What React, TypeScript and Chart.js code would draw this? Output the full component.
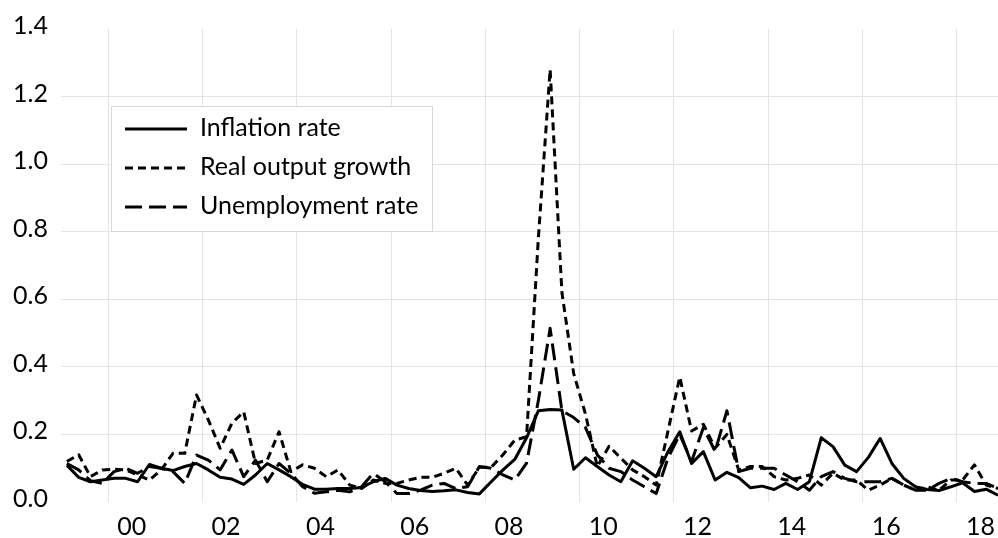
import React, { useEffect, useRef } from "react";
import { Chart, registerables } from "chart.js";

Chart.register(...registerables);

// Quarterly categories, 1999Q1 .. 2018Q4
const startYear = 1999;
const quarterCount = 80;
const quarters: string[] = Array.from({ length: quarterCount }, (_, i) =>
  `${startYear + Math.floor(i / 4)}Q${(i % 4) + 1}`
);

// Tick labels shown (two-digit even years)
const yearTickLabels = ["00", "02", "04", "06", "08", "10", "12", "14", "16", "18"];

const inflationRate = [
  0.109, 0.073, 0.06, 0.065, 0.07, 0.07, 0.06, 0.111, 0.1, 0.093,
  0.105, 0.114, 0.095, 0.073, 0.068, 0.052, 0.08, 0.114, 0.095, 0.075,
  0.052, 0.038, 0.038, 0.04, 0.04, 0.043, 0.06, 0.07, 0.05, 0.04,
  0.034, 0.031, 0.033, 0.036, 0.028, 0.024, 0.06, 0.095, 0.126, 0.19,
  0.27, 0.274, 0.272, 0.097, 0.131, 0.105, 0.08, 0.06, 0.122, 0.1,
  0.075, 0.149, 0.208, 0.114, 0.149, 0.065, 0.088, 0.072, 0.042, 0.047,
  0.037, 0.055, 0.037, 0.06, 0.19, 0.164, 0.109, 0.09, 0.132, 0.188,
  0.114, 0.07, 0.045, 0.037, 0.034, 0.045, 0.057, 0.031, 0.038, 0.02,
];

const realOutputGrowth = [
  0.12, 0.14, 0.075, 0.095, 0.097, 0.095, 0.08, 0.065, 0.095, 0.144,
  0.144, 0.317, 0.243, 0.159, 0.233, 0.267, 0.114, 0.124, 0.208, 0.09,
  0.11, 0.1, 0.075, 0.095, 0.05, 0.04, 0.065, 0.055, 0.055, 0.065,
  0.073, 0.073, 0.085, 0.1, 0.05, 0.103, 0.103, 0.14, 0.183, 0.193,
  0.78, 1.28, 0.62, 0.38, 0.26, 0.105, 0.165, 0.13, 0.095, 0.075,
  0.05, 0.21, 0.37, 0.21, 0.23, 0.16, 0.2, 0.095, 0.105, 0.105,
  0.075, 0.065, 0.07, 0.08, 0.05, 0.085, 0.065, 0.065, 0.035, 0.05,
  0.07, 0.05, 0.035, 0.045, 0.035, 0.065, 0.065, 0.11, 0.05, 0.04,
];

const unemploymentRate = [
  0.114, 0.095, 0.063, 0.055, 0.09, 0.1, 0.085, 0.105, 0.1, 0.09,
  0.055, 0.139, 0.124, 0.095, 0.154, 0.075, 0.124, 0.06, 0.114, 0.085,
  0.045, 0.026, 0.03, 0.035, 0.03, 0.045, 0.085, 0.06, 0.025, 0.025,
  0.035, 0.05, 0.055, 0.04, 0.045, 0.105, 0.1, 0.08, 0.065, 0.115,
  0.3, 0.514, 0.27, 0.25, 0.22, 0.14, 0.1, 0.09, 0.065, 0.045,
  0.025, 0.13, 0.2, 0.12, 0.22, 0.15, 0.27, 0.09, 0.1, 0.1,
  0.1, 0.08, 0.06, 0.035, 0.075, 0.09, 0.07, 0.06, 0.06, 0.06,
  0.07, 0.05, 0.035, 0.035, 0.055, 0.07, 0.06, 0.055, 0.055, 0.04,
];

const seriesNames = ["Inflation rate", "Real output growth", "Unemployment rate"];

const FONT = "Lato";
const FONT_SIZE = 25;
const GRID = "#e4e4e4";

const boxLegend = {
  id: "boxLegend",
  afterDraw(chart: any) {
    const ctx = chart.ctx as CanvasRenderingContext2D;
    ctx.save();
    ctx.fillStyle = "#ffffff";
    ctx.fillRect(111.5, 106.5, 321, 125);
    ctx.strokeStyle = "#d9d9d9";
    ctx.lineWidth = 1;
    ctx.strokeRect(111.5, 106.5, 321, 125);
    chart.data.datasets.forEach((ds: any, i: number) => {
      const y = 129 + i * 39;
      ctx.beginPath();
      ctx.setLineDash(ds.borderDash || []);
      ctx.lineWidth = ds.borderWidth;
      ctx.strokeStyle = ds.borderColor;
      ctx.lineCap = "butt";
      ctx.moveTo(125, y);
      ctx.lineTo(187, y);
      ctx.stroke();
      ctx.setLineDash([]);
      ctx.fillStyle = "#000";
      ctx.font = `${FONT_SIZE}px ${FONT}`;
      ctx.textBaseline = "middle";
      ctx.textAlign = "left";
      ctx.fillText(ds.label, 200, y - 1);
    });
    ctx.restore();
  },
};

export default function App() {
  const canvasRef = useRef<HTMLCanvasElement | null>(null);

  useEffect(() => {
    if (!canvasRef.current) return;
    const common = {
      borderColor: "#000",
      borderWidth: 3,
      pointRadius: 0,
      pointHoverRadius: 0,
      tension: 0,
      fill: false,
      borderJoinStyle: "round" as const,
      borderCapStyle: "butt" as const,
    };
    const chart = new Chart(canvasRef.current, {
      type: "line",
      data: {
        labels: quarters,
        datasets: [
          { ...common, label: seriesNames[0], data: inflationRate, borderDash: [] },
          { ...common, label: seriesNames[1], data: realOutputGrowth, borderDash: [8, 5] },
          { ...common, label: seriesNames[2], data: unemploymentRate, borderDash: [17, 7] },
        ],
      },
      options: {
        responsive: false,
        animation: false,
        events: [],
        layout: { padding: { top: 29, left: 0, right: 0, bottom: 0 } },
        plugins: {
          legend: { display: false },
          tooltip: { enabled: false },
        },
        scales: {
          x: {
            type: "category",
            offset: true,
            border: { display: false },
            grid: {
              offset: true,
              drawTicks: false,
              lineWidth: 1,
              color: (ctx: any) => (ctx.index % 8 === 4 ? GRID : "rgba(0,0,0,0)"),
            },
            ticks: {
              autoSkip: false,
              maxRotation: 0,
              minRotation: 0,
              padding: 10,
              labelOffset: 6,
              color: "#000",
              font: { family: FONT, size: FONT_SIZE },
              callback: (_v: any, i: number) => {
                if (i % 8 === 5) {
                  const k = (i - 5) / 8;
                  return yearTickLabels[k] ?? "";
                }
                return "";
              },
            },
            afterFit: (scale: any) => {
              scale.height = 36;
            },
          },
          y: {
            min: 0,
            max: 1.4,
            border: { display: false },
            grid: {
              drawTicks: false,
              lineWidth: 1,
              color: (ctx: any) => {
                const v = ctx.tick ? ctx.tick.value : 0;
                return v < 0.01 || v > 1.39 ? "rgba(0,0,0,0)" : GRID;
              },
            },
            ticks: {
              stepSize: 0.2,
              padding: 13,
              labelOffset: -3,
              color: "#000",
              font: { family: FONT, size: FONT_SIZE },
              callback: (v: any) => Number(v).toFixed(1),
            },
            afterFit: (scale: any) => {
              scale.width = 61;
            },
          },
        },
      },
      plugins: [boxLegend],
    });
    return () => chart.destroy();
  }, []);

  return (
    <div
      style={{
        position: "fixed",
        left: 0,
        top: 0,
        width: 998,
        height: 538,
        overflow: "hidden",
        background: "#fff",
      }}
    >
      <canvas ref={canvasRef} width={1008} height={538} style={{ display: "block" }} />
    </div>
  );
}
